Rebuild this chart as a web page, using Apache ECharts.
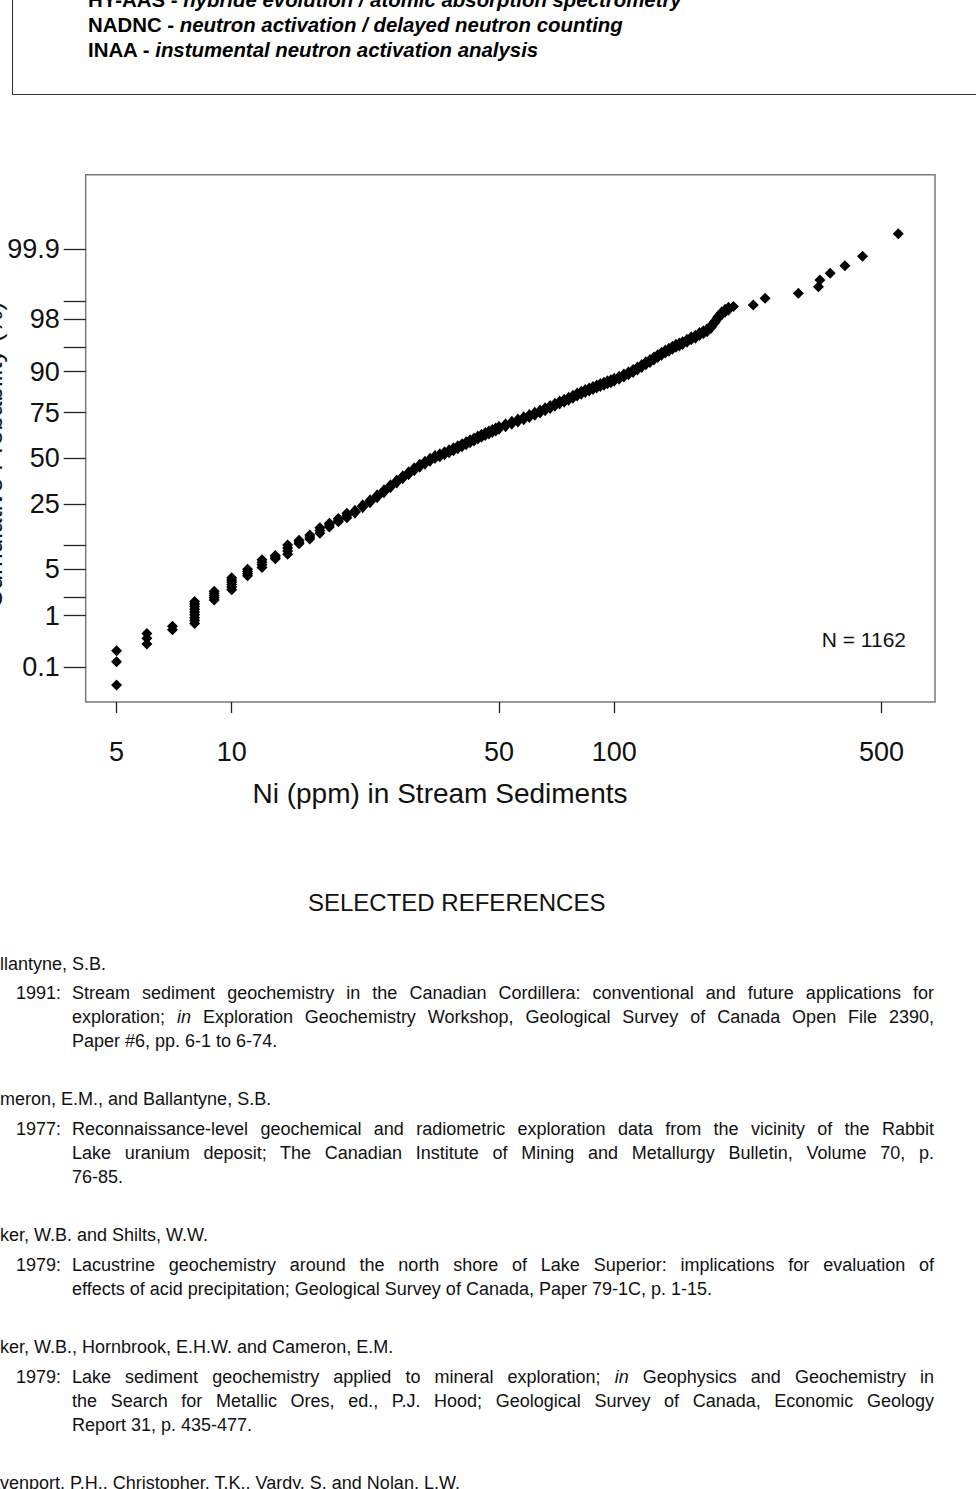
<!DOCTYPE html>
<html><head><meta charset="utf-8">
<script src="https://cdn.jsdelivr.net/npm/echarts@6/dist/echarts.min.js"></script>
<style>
html,body{margin:0;padding:0;background:#fff;}
#page{position:relative;width:976px;height:1489px;overflow:hidden;background:#fff;}
#chart{position:absolute;left:0;top:0;width:976px;height:1489px;}
.t{position:absolute;font-family:'Liberation Sans',Arial,Helvetica,sans-serif;color:#111;}
.frame{position:absolute;left:12px;top:-10px;width:1000px;height:104px;border-left:1.5px solid #333;border-bottom:1.5px solid #333;}
.hdr{left:88px;top:-11.9px;font-weight:bold;font-size:20.4px;line-height:25px;color:#000;white-space:nowrap;}
.hdr i{font-style:italic;}
.ref{font-size:18px;line-height:24px;white-space:nowrap;}
.yr{left:16px;}
.body{left:72px;width:862px;font-size:18px;line-height:24px;}
.body div{text-align:justify;text-align-last:justify;}
.body div.last{text-align-last:left;text-align:left;}
.sel{left:308px;top:889.3px;font-size:24px;line-height:28px;white-space:nowrap;}
</style></head>
<body>
<div id="page">
<div id="chart"></div>
<div class="frame"></div>
<div class="t hdr">HY-AAS - <i>hybride evolution / atomic absorption spectrometry</i><br>NADNC - <i>neutron activation / delayed neutron counting</i><br>INAA - <i>instumental neutron activation analysis</i></div>

<div class="t sel">SELECTED REFERENCES</div>

<div class="t ref" style="left:-22px;top:952.3px;">Ballantyne, S.B.</div>
<div class="t ref yr" style="top:981.3px;">1991:</div>
<div class="t body" style="top:981.3px;">
<div>Stream sediment geochemistry in the Canadian Cordillera: conventional and future applications for</div>
<div>exploration; <i>in</i> Exploration Geochemistry Workshop, Geological Survey of Canada Open File 2390,</div>
<div class="last">Paper #6, pp. 6-1 to 6-74.</div>
</div>

<div class="t ref" style="left:-23px;top:1087.3px;">Cameron, E.M., and Ballantyne, S.B.</div>
<div class="t ref yr" style="top:1117.3px;">1977:</div>
<div class="t body" style="top:1117.3px;">
<div>Reconnaissance-level geochemical and radiometric exploration data from the vicinity of the Rabbit</div>
<div>Lake uranium deposit; The Canadian Institute of Mining and Metallurgy Bulletin, Volume 70, p.</div>
<div class="last">76-85.</div>
</div>

<div class="t ref" style="left:-23px;top:1223.3px;">Coker, W.B. and Shilts, W.W.</div>
<div class="t ref yr" style="top:1253.3px;">1979:</div>
<div class="t body" style="top:1253.3px;">
<div>Lacustrine geochemistry around the north shore of Lake Superior: implications for evaluation of</div>
<div class="last">effects of acid precipitation; Geological Survey of Canada, Paper 79-1C, p. 1-15.</div>
</div>

<div class="t ref" style="left:-23px;top:1335.3px;">Coker, W.B., Hornbrook, E.H.W. and Cameron, E.M.</div>
<div class="t ref yr" style="top:1365.3px;">1979:</div>
<div class="t body" style="top:1365.3px;">
<div>Lake sediment geochemistry applied to mineral exploration; <i>in</i> Geophysics and Geochemistry in</div>
<div>the Search for Metallic Ores, ed., P.J. Hood; Geological Survey of Canada, Economic Geology</div>
<div class="last">Report 31, p. 435-477.</div>
</div>

<div class="t ref" style="left:-23px;top:1471.3px;">Davenport, P.H., Christopher, T.K., Vardy, S. and Nolan, L.W.</div>
</div>

<script>
// ---- Data (Ni ppm, cumulative %) ----
// Low-value columns (integer ppm values with stacked samples)
const columnNi = [5,5,5, 6,6,6, 7,7, 8,8,8,8,8,8,8,8,8, 9,9,9,9,9, 10,10,10,10,10,10, 11,11,11,11, 12,12,12,12, 13,13,13, 14,14,14,14, 15,15,15, 16,16,16, 17,17,17, 18,18,18, 19,19,19, 20,20,20];
const columnPct = [0.04,0.13,0.22, 0.30,0.39,0.48, 0.56,0.65, 0.73,0.82,0.92,1.03,1.15,1.28,1.42,1.56,1.70, 1.80,1.95,2.10,2.27,2.45, 2.60,2.85,3.10,3.35,3.60,3.87, 4.10,4.40,4.70,5.05, 5.30,5.75,6.20,6.65, 6.85,7.20,7.50, 7.80,8.50,9.20,10.0, 10.3,10.8,11.3, 11.6,12.2,12.8, 13.4,14.3,15.2, 15.5,16.2,16.8, 17.4,18.0,18.7, 19.0,19.9,20.8];
// Dense central band
const bandNi = [21,22,23,24,25,26,27,28,29,30,31,32,33,34,35,36,37,38,39,40,41,42,43,44,45,46,47,48,49,50,52,54,56,58,60,62,64,66,68,70,72,74,76,78,80,82,84,86,88,90,92,94,96,98,100,103,106,109,112,115,118,121,124,127,130,133,136,139,142,145,148,151,155,159,163,167,171,175,179,183,187,191,195,199];
const bandPct = [21.5,23.9,26.3,28.7,31.3,33.9,36.6,39.0,41.3,43.6,45.6,47.3,49.1,50.7,51.8,53.0,54.1,55.3,56.5,57.6,58.8,59.9,61.0,62.1,63.1,64.0,64.9,65.7,66.5,67.4,68.7,70.0,71.2,72.3,73.4,74.5,75.6,76.6,77.6,78.6,79.5,80.3,81.1,81.9,82.7,83.4,84.0,84.6,85.1,85.6,86.1,86.5,87.0,87.3,87.7,88.3,89.0,89.6,90.2,90.8,91.4,92.0,92.5,93.0,93.5,93.9,94.3,94.6,94.9,95.2,95.4,95.6,95.9,96.2,96.4,96.7,96.9,97.1,97.4,97.8,98.15,98.4,98.55,98.65];
// Upper tail (isolated samples)
const tailNi = [205,231,248,303,342,345,367,401,446,553];
const tailPct = [98.76,98.83,99.10,99.27,99.44,99.58,99.69,99.78,99.86,99.955];

const xTickValues = [5,10,50,100,500];
const probTicks = [0.1,1,2,5,10,25,50,75,90,95,98,99,99.9];
const probLabels = ['0.1','1','5','25','50','75','90','98','99.9'];
const sampleCount = 'N = 1162';
const xTitle = 'Ni (ppm) in Stream Sediments';
const yTitle = 'Cumulative Probability (%)';

// inverse standard normal CDF (normal-probability scale)
function probit(p){
  const a=[-3.969683028665376e+01,2.209460984245205e+02,-2.759285104469687e+02,1.383577518672690e+02,-3.066479806614716e+01,2.506628277459239e+00];
  const b=[-5.447609879822406e+01,1.615858368580409e+02,-1.556989798598866e+02,6.680131188771972e+01,-1.328068155288572e+01];
  const c=[-7.784894002430293e-03,-3.223964580411365e-01,-2.400758277161838e+00,-2.549732539343734e+00,4.374664141464968e+00,2.938163982698783e+00];
  const d=[7.784695709041462e-03,3.224671290700398e-01,2.445134137142996e+00,3.754408661907416e+00];
  const pl=0.02425, ph=1-pl; let q,r;
  if(p<pl){q=Math.sqrt(-2*Math.log(p));return (((((c[0]*q+c[1])*q+c[2])*q+c[3])*q+c[4])*q+c[5])/((((d[0]*q+d[1])*q+d[2])*q+d[3])*q+1);}
  if(p<=ph){q=p-0.5;r=q*q;return (((((a[0]*r+a[1])*r+a[2])*r+a[3])*r+a[4])*r+a[5])*q/(((((b[0]*r+b[1])*r+b[2])*r+b[3])*r+b[4])*r+1);}
  q=Math.sqrt(-2*Math.log(1-p));return -(((((c[0]*q+c[1])*q+c[2])*q+c[3])*q+c[4])*q+c[5])/((((d[0]*q+d[1])*q+d[2])*q+d[3])*q+1);
}
const toPoints = (xs, ps) => xs.map((v,i)=>[v, probit(ps[i]/100)]);
const labelZ = probLabels.map(s=>probit(parseFloat(s)/100));

const FONT = "'Liberation Sans', Arial, Helvetica, sans-serif";
const chart = echarts.init(document.getElementById('chart'), null, {renderer:'svg', width:976, height:1489});
const diamond = {symbol:'diamond', itemStyle:{color:'#000', opacity:1}, silent:true, animation:false};
chart.setOption({
  animation:false,
  backgroundColor:'transparent',
  grid:{left:85.7, top:174.7, width:849.3, height:527.3, show:true, borderColor:'#7a7a7a', borderWidth:1.5, backgroundColor:'transparent', containLabel:false, outerBoundsMode:'none'},
  xAxis:{
    type:'log', logBase:10, min:4.152, max:689.8, position:'bottom',
    axisLine:{show:false, onZero:false},
    splitLine:{show:false}, minorTick:{show:false}, minorSplitLine:{show:false},
    axisTick:{show:true, inside:false, length:11, customValues:xTickValues, lineStyle:{color:'#222', width:1.3}},
    axisLabel:{show:true, customValues:xTickValues, margin:36, fontSize:27, color:'#111', fontFamily:FONT, formatter:v=>String(Math.round(v))}
  },
  yAxis:{
    type:'value', min:-3.605, max:4.195, position:'left',
    axisLine:{show:false, onZero:false},
    splitLine:{show:false},
    axisTick:{show:true, inside:false, length:22, customValues:probTicks.map(p=>probit(p/100)), lineStyle:{color:'#222', width:1.3}},
    axisLabel:{show:true, customValues:labelZ, margin:26, fontSize:27, color:'#111', fontFamily:FONT,
      formatter:v=>{let best=0,bd=1e9;labelZ.forEach((z,i)=>{const d=Math.abs(z-v);if(d<bd){bd=d;best=i;}});return probLabels[best];}}
  },
  series:[
    Object.assign({type:'scatter', name:'columns', symbolSize:11, data:toPoints(columnNi,columnPct)}, diamond),
    Object.assign({type:'scatter', name:'band', symbolSize:[12,14], data:toPoints(bandNi,bandPct)}, diamond),
    Object.assign({type:'scatter', name:'tail', symbolSize:11, data:toPoints(tailNi,tailPct)}, diamond)
  ],
  graphic:[
    {type:'text', x:906, y:639, silent:true, style:{text:sampleCount, fontSize:21, fontFamily:FONT, fill:'#111', align:'right', verticalAlign:'middle', textAlign:'right', textVerticalAlign:'middle'}},
    {type:'text', x:440, y:793, silent:true, style:{text:xTitle, fontSize:28, fontFamily:FONT, fill:'#111', align:'center', verticalAlign:'middle', textAlign:'center', textVerticalAlign:'middle'}},
    {type:'text', x:6, y:455, rotation:Math.PI/2, silent:true, style:{text:yTitle, fontSize:26, fontFamily:FONT, fill:'#111', align:'center', verticalAlign:'bottom', textAlign:'center', textVerticalAlign:'bottom'}}
  ]
});
</script>
</body></html>
